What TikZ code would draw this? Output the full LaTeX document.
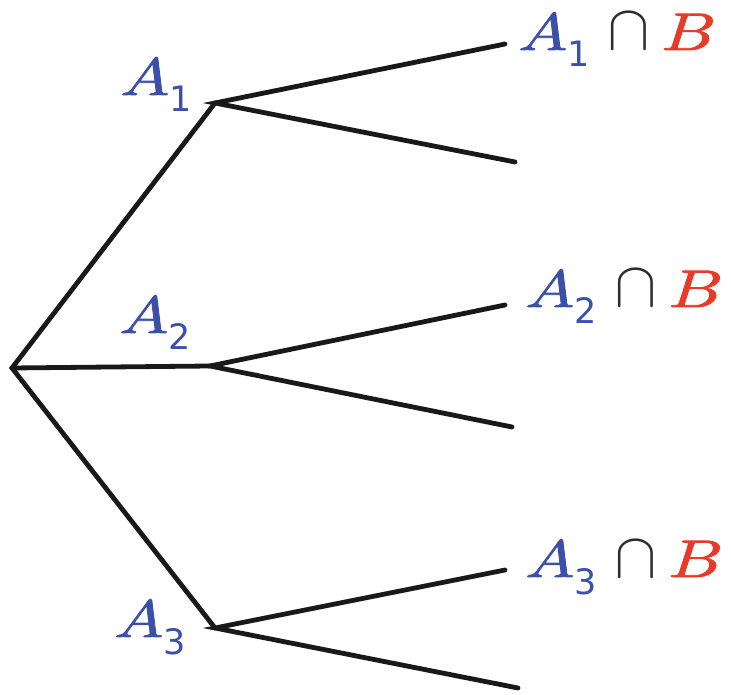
\documentclass[tikz,border=0pt]{standalone}
\usepackage{fontspec}
\newfontfamily\lmmath{Latin Modern Math}[FakeBold=1.4]
\newfontfamily\lmcap{Latin Modern Math}
\newfontfamily\subfont{DejaVu Sans}
\definecolor{lblue}{RGB}{60,80,170}
\definecolor{lred}{RGB}{232,58,40}
\definecolor{lgray}{RGB}{45,45,45}
\tikzset{
  branch/.style={line width=4.8pt, black!90, line cap=round, line join=miter},
  lab/.style={inner sep=0pt, anchor=base west, font=\fontsize{53}{60}\selectfont}
}
\newcommand{\myA}[1]{\textcolor{lblue}{\scalebox{1.24}[1]{\lmmath 𝐴}\kern0pt\raisebox{-17pt}{\subfont\fontsize{35}{40}\selectfont #1}}}
\newcommand{\myleaf}[1]{\myA{#1}\kern18pt\textcolor{lgray}{\lmcap\fontsize{64}{70}\selectfont ∩}\kern11pt\textcolor{lred}{\scalebox{1.28}[1]{\lmmath 𝐵}}}
\begin{document}
\begin{tikzpicture}[x=1pt,y=1pt]
\useasboundingbox (0,0) rectangle (731,694);
\coordinate (R) at (12,326);
\coordinate (N1) at (215,591);
\coordinate (N2) at (210,328);
\coordinate (N3) at (215,66);
\coordinate (L1a) at (505,650);
\coordinate (L1b) at (515,532);
\coordinate (L2a) at (505,389);
\coordinate (L2b) at (512,267);
\coordinate (L3a) at (505,124);
\coordinate (L3b) at (518,6);
\draw[branch] (N1) -- (R) -- (N3);
\draw[branch] (R) -- (N2);
\draw[branch] (L1a) -- (N1) -- (L1b);
\draw[branch] (L2a) -- (N2) -- (L2b);
\draw[branch] (L3a) -- (N3) -- (L3b);
\node[lab] (t1) at (120,599) {\myA{1}};
\node[lab] (t2) at (119,361) {\myA{2}};
\node[lab] (t3) at (114,57) {\myA{3}};
\node[lab] (s1) at (518,644) {\myleaf{1}};
\node[lab] (s2) at (525,387) {\myleaf{2}};
\node[lab] (s3) at (525,117) {\myleaf{3}};
\end{tikzpicture}
\end{document}
